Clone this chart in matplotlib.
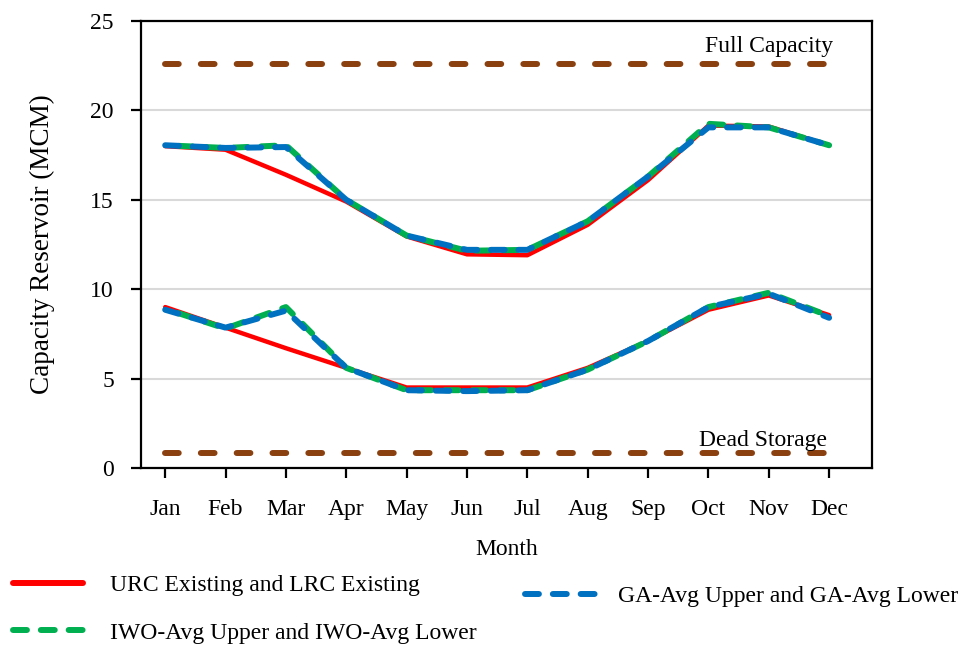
import matplotlib
matplotlib.use("Agg")
import matplotlib.pyplot as plt
from matplotlib.lines import Line2D

plt.rcParams['font.family'] = ['Liberation Serif', 'DejaVu Serif']

# monthly reservoir capacity (MCM)
months = ['Jan', 'Feb', 'Mar', 'Apr', 'May', 'Jun', 'Jul', 'Aug', 'Sep', 'Oct', 'Nov', 'Dec']

urc_existing = [18.0, 17.8, 16.4, 14.9, 12.95, 11.95, 11.9, 13.6, 16.1, 19.15, 19.1, 18.05]
lrc_existing = [9.0, 7.85, 6.7, 5.6, 4.5, 4.5, 4.5, 5.6, 7.1, 8.85, 9.65, 8.55]

iwo_upper = [18.05, 17.9, 18.05, 15.0, 13.0, 12.15, 12.2, 13.8, 16.3, 19.25, 19.05, 18.05]
iwo_lower = [8.9, 7.8, 9.0, 5.6, 4.35, 4.35, 4.35, 5.5, 7.1, 9.0, 9.8, 8.5]

ga_upper = [18.05, 17.9, 17.95, 15.0, 13.0, 12.2, 12.2, 13.8, 16.3, 19.05, 19.05, 18.05]
ga_lower = [8.85, 7.85, 8.8, 5.6, 4.35, 4.3, 4.35, 5.5, 7.1, 9.0, 9.75, 8.4]

full_capacity = 22.6
dead_storage = 0.85

red = '#FF0000'
green = '#00B050'
blue = '#0070C0'
brown = '#8B4010'

fig = plt.figure(figsize=(9.68, 6.48), dpi=100)
ax = fig.add_axes([0.1457, 0.2778, 0.7551, 0.6898])

x = list(range(len(months)))

# storage limits
for level in (full_capacity, dead_storage):
    ax.plot([x[0], x[-1]], [level, level], color=brown, lw=4.3,
            ls=(0, (2.3, 3.7)), dash_capstyle='round', zorder=2)

# rule curves
ax.plot(x, urc_existing, color=red, lw=3.2, solid_capstyle='round', zorder=3)
ax.plot(x, lrc_existing, color=red, lw=3.2, solid_capstyle='round', zorder=3)
ax.plot(x, iwo_upper, color=green, lw=4.3, ls=(2.3, (2.3, 2.3)), dash_capstyle='round', zorder=4)
ax.plot(x, iwo_lower, color=green, lw=4.3, ls=(2.3, (2.3, 2.3)), dash_capstyle='round', zorder=4)
ax.plot(x, ga_upper, color=blue, lw=4.3, ls=(0, (2.3, 2.3)), dash_capstyle='round', zorder=5)
ax.plot(x, ga_lower, color=blue, lw=4.3, ls=(0, (2.3, 2.3)), dash_capstyle='round', zorder=5)

ax.text(11.07, 23.26, 'Full Capacity', ha='right', va='baseline', fontsize=17)
ax.text(10.97, 1.23, 'Dead Storage', ha='right', va='baseline', fontsize=17)

ax.set_xlim(-0.40, 11.71)
ax.set_ylim(0, 25)
ax.set_xticks(x)
ax.set_xticklabels(months)
ax.set_yticks([0, 5, 10, 15, 20, 25])
ax.grid(axis='y', color='#D9D9D9', lw=1.5, zorder=0)
ax.set_axisbelow(True)

for s in ax.spines.values():
    s.set_linewidth(1.6)
ax.tick_params(axis='both', direction='out', length=7.5, width=1.6, labelsize=17)
ax.tick_params(axis='y', pad=12)
ax.tick_params(axis='x', pad=15)

ax.set_ylabel('Capacity Reservoir (MCM)', fontsize=19.5)
ax.yaxis.set_label_coords(-0.118, 0.5)
ax.set_xlabel('Month', fontsize=17)
ax.xaxis.set_label_coords(0.5, -0.158)

# legend in two blocks below the axes
h_red = Line2D([], [], color=red, lw=4.3, solid_capstyle='round')
h_green = Line2D([], [], color=green, lw=4.3, ls=(0, (2.33, 2.33)), dash_capstyle='round')
h_blue = Line2D([], [], color=blue, lw=4.3, ls=(0, (2.33, 2.33)), dash_capstyle='round')

fig.legend([h_red, h_green],
           ['URC Existing and LRC Existing', 'IWO-Avg Upper and IWO-Avg Lower'],
           loc='center left', bbox_to_anchor=(13 / 968, 1 - 609 / 648),
           frameon=False, fontsize=17, handlelength=2.96, handletextpad=1.14,
           labelspacing=1.12, borderpad=0, borderaxespad=0)
fig.legend([h_blue], ['GA-Avg Upper and GA-Avg Lower'],
           loc='center left', bbox_to_anchor=(525 / 968, 1 - 596 / 648),
           frameon=False, fontsize=17, handlelength=2.96, handletextpad=0.97,
           borderpad=0, borderaxespad=0)

fig.savefig('out.png', dpi=100)
